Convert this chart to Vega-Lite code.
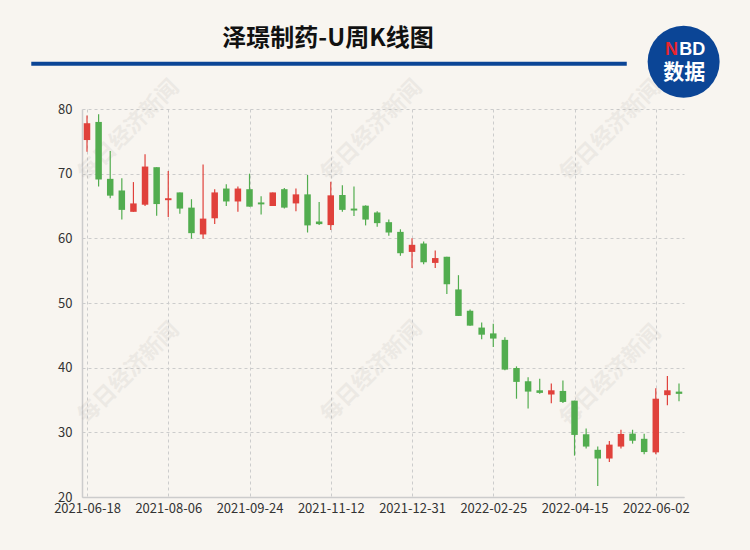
{
  "$schema": "https://vega.github.io/schema/vega-lite/v6.json",
  "width": 602,
  "height": 388,
  "autosize": "none",
  "padding": {"left": 82, "top": 109, "right": 66, "bottom": 53},
  "background": "#f8f5f0",
  "data": {
    "values": [
      {"d": "2021-06-18", "i": 0, "o": 75.2, "c": 77.8, "h": 79.0, "l": 73.4},
      {"d": "2021-06-25", "i": 1, "o": 78.0, "c": 69.1, "h": 79.2, "l": 68.0},
      {"d": "2021-07-02", "i": 2, "o": 69.2, "c": 66.6, "h": 73.5, "l": 66.2},
      {"d": "2021-07-09", "i": 3, "o": 67.4, "c": 64.4, "h": 69.3, "l": 62.9},
      {"d": "2021-07-16", "i": 4, "o": 64.1, "c": 65.4, "h": 68.7, "l": 64.1},
      {"d": "2021-07-23", "i": 5, "o": 65.2, "c": 71.1, "h": 73.0, "l": 65.0},
      {"d": "2021-07-30", "i": 6, "o": 71.0, "c": 65.3, "h": 71.0, "l": 63.5},
      {"d": "2021-08-06", "i": 7, "o": 65.9, "c": 66.2, "h": 70.4, "l": 63.3},
      {"d": "2021-08-13", "i": 8, "o": 67.1, "c": 64.6, "h": 67.1, "l": 63.8},
      {"d": "2021-08-20", "i": 9, "o": 64.75, "c": 60.8, "h": 66.05, "l": 59.95},
      {"d": "2021-08-27", "i": 10, "o": 60.6, "c": 63.05, "h": 71.4, "l": 59.95},
      {"d": "2021-09-03", "i": 11, "o": 63.1, "c": 67.1, "h": 67.6, "l": 62.2},
      {"d": "2021-09-10", "i": 12, "o": 67.7, "c": 65.7, "h": 68.35, "l": 65.0},
      {"d": "2021-09-17", "i": 13, "o": 65.7, "c": 67.7, "h": 68.0, "l": 64.1},
      {"d": "2021-09-24", "i": 14, "o": 67.6, "c": 64.9, "h": 70.0, "l": 64.9},
      {"d": "2021-09-30", "i": 15, "o": 65.55, "c": 65.25, "h": 66.5, "l": 63.7},
      {"d": "2021-10-08", "i": 16, "o": 65.0, "c": 67.1, "h": 67.1, "l": 65.0},
      {"d": "2021-10-15", "i": 17, "o": 67.6, "c": 64.75, "h": 67.8, "l": 64.6},
      {"d": "2021-10-22", "i": 18, "o": 65.4, "c": 66.8, "h": 67.7, "l": 64.2},
      {"d": "2021-10-29", "i": 19, "o": 66.8, "c": 62.0, "h": 69.8, "l": 60.9},
      {"d": "2021-11-05", "i": 20, "o": 62.6, "c": 62.2, "h": 65.6, "l": 62.05},
      {"d": "2021-11-12", "i": 21, "o": 62.05, "c": 66.65, "h": 68.75, "l": 61.3},
      {"d": "2021-11-19", "i": 22, "o": 66.7, "c": 64.4, "h": 68.2, "l": 64.1},
      {"d": "2021-11-26", "i": 23, "o": 64.6, "c": 64.3, "h": 68.0, "l": 63.45},
      {"d": "2021-12-03", "i": 24, "o": 65.05, "c": 62.9, "h": 65.1, "l": 62.0},
      {"d": "2021-12-10", "i": 25, "o": 64.0, "c": 62.35, "h": 64.2, "l": 61.8},
      {"d": "2021-12-17", "i": 26, "o": 62.5, "c": 60.9, "h": 62.9, "l": 60.4},
      {"d": "2021-12-24", "i": 27, "o": 61.0, "c": 57.7, "h": 61.4, "l": 57.3},
      {"d": "2021-12-31", "i": 28, "o": 57.9, "c": 59.0, "h": 60.0, "l": 55.4},
      {"d": "2022-01-07", "i": 29, "o": 59.2, "c": 56.3, "h": 59.5, "l": 56.0},
      {"d": "2022-01-14", "i": 30, "o": 56.2, "c": 56.95, "h": 58.1, "l": 55.4},
      {"d": "2022-01-21", "i": 31, "o": 57.15, "c": 52.9, "h": 57.15, "l": 51.4},
      {"d": "2022-01-28", "i": 32, "o": 52.1, "c": 48.0, "h": 54.3, "l": 48.0},
      {"d": "2022-02-11", "i": 33, "o": 48.8, "c": 46.5, "h": 49.0, "l": 46.5},
      {"d": "2022-02-18", "i": 34, "o": 46.2, "c": 45.1, "h": 47.0, "l": 44.4},
      {"d": "2022-02-25", "i": 35, "o": 45.3, "c": 44.5, "h": 46.8, "l": 43.2},
      {"d": "2022-03-04", "i": 36, "o": 44.3, "c": 39.7, "h": 44.7, "l": 39.6},
      {"d": "2022-03-11", "i": 37, "o": 39.95, "c": 37.8, "h": 40.2, "l": 35.2},
      {"d": "2022-03-18", "i": 38, "o": 37.9, "c": 36.3, "h": 38.5, "l": 33.7},
      {"d": "2022-03-25", "i": 39, "o": 36.5, "c": 36.1, "h": 38.3, "l": 35.95},
      {"d": "2022-04-01", "i": 40, "o": 35.85, "c": 36.5, "h": 37.55, "l": 34.5},
      {"d": "2022-04-08", "i": 41, "o": 36.4, "c": 34.7, "h": 38.0, "l": 34.55},
      {"d": "2022-04-15", "i": 42, "o": 34.9, "c": 29.6, "h": 34.9, "l": 26.4},
      {"d": "2022-04-22", "i": 43, "o": 29.7, "c": 27.8, "h": 30.6, "l": 27.5},
      {"d": "2022-04-29", "i": 44, "o": 27.3, "c": 25.95, "h": 27.8, "l": 21.7},
      {"d": "2022-05-06", "i": 45, "o": 25.95, "c": 28.1, "h": 28.65, "l": 25.4},
      {"d": "2022-05-13", "i": 46, "o": 27.8, "c": 29.75, "h": 30.4, "l": 27.5},
      {"d": "2022-05-20", "i": 47, "o": 29.8, "c": 28.7, "h": 30.4, "l": 28.25},
      {"d": "2022-05-27", "i": 48, "o": 29.0, "c": 26.95, "h": 29.8, "l": 26.6},
      {"d": "2022-06-02", "i": 49, "o": 26.9, "c": 35.2, "h": 36.8, "l": 26.6},
      {"d": "2022-06-10", "i": 50, "o": 35.75, "c": 36.5, "h": 38.7, "l": 34.2},
      {"d": "2022-06-17", "i": 51, "o": 36.3, "c": 35.95, "h": 37.55, "l": 34.8}
    ]
  },
  "layer": [
    {
      "data": {"values": [{}]},
      "mark": {"type": "text", "text": "每日经济新闻", "angle": -45, "align": "center", "baseline": "middle", "font": "Noto Sans CJK SC", "fontWeight": "bold", "fontSize": 22, "color": "#8a8580", "opacity": 0.1},
      "encoding": {"x": {"datum": 3.58}, "y": {"datum": 76.7}}
    },
    {
      "data": {"values": [{}]},
      "mark": {"type": "text", "text": "每日经济新闻", "angle": -45, "align": "center", "baseline": "middle", "font": "Noto Sans CJK SC", "fontWeight": "bold", "fontSize": 22, "color": "#8a8580", "opacity": 0.1},
      "encoding": {"x": {"datum": 24.5}, "y": {"datum": 76.7}}
    },
    {
      "data": {"values": [{}]},
      "mark": {"type": "text", "text": "每日经济新闻", "angle": -45, "align": "center", "baseline": "middle", "font": "Noto Sans CJK SC", "fontWeight": "bold", "fontSize": 22, "color": "#8a8580", "opacity": 0.1},
      "encoding": {"x": {"datum": 45.1}, "y": {"datum": 76.7}}
    },
    {
      "data": {"values": [{}]},
      "mark": {"type": "text", "text": "每日经济新闻", "angle": -45, "align": "center", "baseline": "middle", "font": "Noto Sans CJK SC", "fontWeight": "bold", "fontSize": 22, "color": "#8a8580", "opacity": 0.1},
      "encoding": {"x": {"datum": 3.58}, "y": {"datum": 39.2}}
    },
    {
      "data": {"values": [{}]},
      "mark": {"type": "text", "text": "每日经济新闻", "angle": -45, "align": "center", "baseline": "middle", "font": "Noto Sans CJK SC", "fontWeight": "bold", "fontSize": 22, "color": "#8a8580", "opacity": 0.1},
      "encoding": {"x": {"datum": 24.5}, "y": {"datum": 39.4}}
    },
    {
      "data": {"values": [{}]},
      "mark": {"type": "text", "text": "每日经济新闻", "angle": -45, "align": "center", "baseline": "middle", "font": "Noto Sans CJK SC", "fontWeight": "bold", "fontSize": 22, "color": "#8a8580", "opacity": 0.1},
      "encoding": {"x": {"datum": 45.1}, "y": {"datum": 38.8}}
    },
    {
      "mark": {"type": "rule", "strokeWidth": 1.2},
      "encoding": {
        "x": {
          "field": "i",
          "type": "quantitative",
          "scale": {"domain": [0, 51], "nice": false, "zero": false},
          "axis": {
            "title": null,
            "values": [0, 7, 14, 21, 28, 35, 42, 49],
            "labelExpr": "['2021-06-18','2021-08-06','2021-09-24','2021-11-12','2021-12-31','2022-02-25','2022-04-15','2022-06-02'][round(datum.value/7)]",
            "ticks": false,
            "labelPadding": 5,
            "labelFontSize": 13,
            "labelFont": "Noto Sans CJK SC",
            "labelColor": "#333333",
            "labelFlush": false,
            "labelOverlap": false,
            "domainColor": "#cccccc",
            "domainWidth": 1.5,
            "grid": true,
            "gridColor": "#cccccc",
            "gridDash": [3, 3],
            "gridWidth": 1
          }
        },
        "y": {
          "field": "l",
          "type": "quantitative",
          "scale": {"domain": [20, 80], "nice": false, "zero": false},
          "axis": {
            "title": null,
            "values": [20, 30, 40, 50, 60, 70, 80],
            "ticks": false,
            "labelPadding": 10,
            "labelFontSize": 13,
            "labelFont": "Noto Sans CJK SC",
            "labelColor": "#333333",
            "domainColor": "#cccccc",
            "domainWidth": 1.5,
            "grid": true,
            "gridColor": "#cccccc",
            "gridDash": [3, 3],
            "gridWidth": 1
          }
        },
        "y2": {"field": "h"},
        "color": {"condition": {"test": "datum.c >= datum.o", "value": "#e0413b"}, "value": "#52ad4f"}
      }
    },
    {
      "mark": {"type": "bar", "size": 6.5},
      "encoding": {
        "x": {"field": "i", "type": "quantitative"},
        "y": {"field": "o", "type": "quantitative"},
        "y2": {"field": "c"},
        "color": {"condition": {"test": "datum.c >= datum.o", "value": "#e0413b"}, "value": "#52ad4f"}
      }
    },
    {
      "data": {"values": [{}]},
      "mark": {"type": "text", "text": "泽璟制药-U周K线图", "align": "center", "baseline": "middle", "font": "Noto Sans CJK SC", "fontWeight": "bold", "fontSize": 24, "color": "#111111"},
      "encoding": {"x": {"datum": 20.76}, "y": {"datum": 90.9}}
    },
    {
      "data": {"values": [{}]},
      "mark": {"type": "rule", "strokeWidth": 4, "color": "#0b4596"},
      "encoding": {
        "x": {"datum": -4.8},
        "x2": {"datum": 46.5},
        "y": {"datum": 87.0}
      }
    },
    {
      "data": {"values": [{}]},
      "mark": {"type": "point", "shape": "circle", "filled": true, "opacity": 1, "color": "#0b4596", "size": 5184},
      "encoding": {
        "x": {"datum": 51.4},
        "y": {"datum": 87.3}
      }
    },
    {
      "data": {"values": [{}]},
      "mark": {"type": "text", "text": "N", "align": "right", "baseline": "middle", "font": "Liberation Sans", "fontWeight": "bold", "fontSize": 18, "color": "#e8252e"},
      "encoding": {
        "x": {"datum": 50.92},
        "y": {"datum": 89.2}
      }
    },
    {
      "data": {"values": [{}]},
      "mark": {"type": "text", "text": "BD", "align": "left", "baseline": "middle", "font": "Liberation Sans", "fontWeight": "bold", "fontSize": 18, "color": "#ffffff"},
      "encoding": {
        "x": {"datum": 51.03},
        "y": {"datum": 89.2}
      }
    },
    {
      "data": {"values": [{}]},
      "mark": {"type": "text", "text": "数据", "align": "center", "baseline": "middle", "font": "Noto Sans CJK SC", "fontWeight": "bold", "fontSize": 21, "color": "#ffffff"},
      "encoding": {
        "x": {"datum": 51.45},
        "y": {"datum": 85.5}
      }
    }
  ],
  "config": {"view": {"stroke": null}}
}
